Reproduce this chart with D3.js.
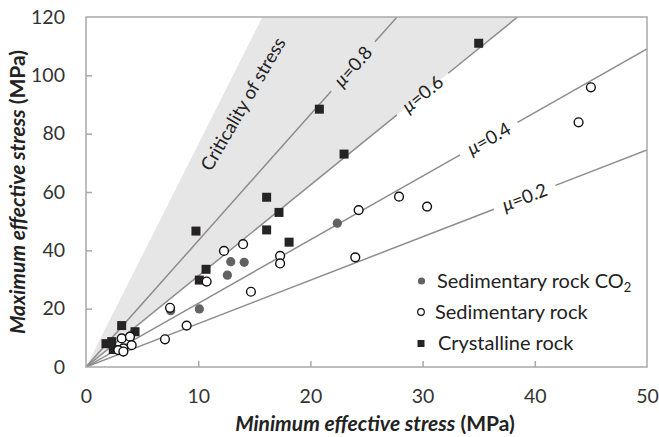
<!DOCTYPE html>
<html>
<head>
<meta charset="utf-8">
<script src="https://cdn.jsdelivr.net/npm/d3@7"></script>
<style>
body { margin: 0; background: #fff; }
text { font-family: Lato, "Open Sans", sans-serif; }
</style>
</head>
<body>
<div id="chart"></div>
<script>
// axis ticks
var xTicks = [0, 10, 20, 30, 40, 50];
var yTicks = [0, 20, 40, 60, 80, 100, 120];

// friction lines, and where their labels sit (min stress value)
var muValues = [0.2, 0.4, 0.6, 0.8];
var muLabelAt = [39.1, 35.9, 30.0, 23.8];
var muCritical = 1.2; // steep edge of the grey band

// Sedimentary rock CO2
var co2Min = [22.4, 12.9, 14.1, 12.6, 10.1, 7.55];
var co2Max = [49.3, 36.1, 35.9, 31.5, 19.9, 19.3];

// Sedimentary rock
var sedMin = [45.0, 43.9, 27.9, 30.4, 24.3, 24.0, 14.0, 12.3, 17.3, 17.3, 10.75, 14.7, 7.49, 8.97, 7.04,
              3.18, 3.92, 4.07, 3.33, 2.88, 3.33];
var sedMax = [95.9, 83.9, 58.4, 55.0, 53.8, 37.6, 42.1, 39.8, 38.1, 35.5, 29.3, 25.8, 20.3, 14.2, 9.5,
              9.8, 10.4, 7.5, 6.4, 5.8, 5.3];

// Crystalline rock
var crysMin = [35.0, 23.0, 20.8, 16.1, 17.2, 9.8, 16.1, 18.1, 10.7, 10.1, 3.18, 4.37, 1.78, 2.29, 2.43];
var crysMax = [111.0, 73.0, 88.4, 58.2, 53.0, 46.6, 47.0, 42.8, 33.5, 29.8, 14.2, 12.1, 8.0, 8.7, 6.0];

var svgWidth = 659, svgHeight = 437;
var margin = {top: 17, right: 12, bottom: 70, left: 86};
var width = svgWidth - margin.left - margin.right,
    height = svgHeight - margin.top - margin.bottom;

var svg = d3.select("#chart").append("svg")
    .attr("width", svgWidth)
    .attr("height", svgHeight);

var chart = svg.append("g")
    .attr("transform", `translate(${margin.left}, ${margin.top})`);

var x = d3.scaleLinear().domain([0, 50]).range([0, width]);
var y = d3.scaleLinear().domain([0, 120]).range([height, 0]);

// stress ratio s1/s3 for a given friction coefficient
function ratio(mu) {
    var r = Math.sqrt(mu * mu + 1) + mu;
    return r * r;
}

svg.append("defs").append("clipPath").attr("id", "plotclip")
    .append("rect").attr("width", width).attr("height", height);

var plot = chart.append("g").attr("clip-path", "url(#plotclip)");

// grey band between mu=0.6 and the critical line
var kLow = ratio(0.6), kHigh = ratio(muCritical);
plot.append("path")
    .attr("d", d3.line()([
        [x(0), y(0)], [x(120 / kHigh), y(120)], [x(120 / kLow), y(120)]
    ]))
    .attr("fill", "#e6e6e7");

// friction lines with a gap for the label
var gap = 33;
muValues.forEach(function(mu, i) {
    var k = ratio(mu);
    var xEnd = Math.min(50, 120 / k);
    var cx = x(muLabelAt[i]), cy = y(k * muLabelAt[i]);
    var dx = x(1) - x(0), dy = y(k) - y(0);
    var len = Math.sqrt(dx * dx + dy * dy);
    var ux = dx / len, uy = dy / len;
    plot.append("path")
        .attr("d", d3.line()([[x(0), y(0)], [cx - ux * gap, cy - uy * gap]]))
        .attr("stroke", "#8d8d8d").attr("stroke-width", 1.5).attr("fill", "none");
    plot.append("path")
        .attr("d", d3.line()([[cx + ux * gap, cy + uy * gap], [x(xEnd), y(k * xEnd)]]))
        .attr("stroke", "#8d8d8d").attr("stroke-width", 1.5).attr("fill", "none");
    var angle = Math.atan2(dy, dx) * 180 / Math.PI;
    var t = chart.append("text")
        .attr("transform", `translate(${cx}, ${cy}) rotate(${angle})`)
        .attr("text-anchor", "middle")
        .attr("dy", "0.35em")
        .attr("font-size", "18.5px")
        .attr("fill", "#222");
    t.append("tspan").attr("font-style", "italic").text("\u03bc");
    t.append("tspan").text("=" + mu);
});

chart.append("text")
    .attr("transform", `translate(${243 - margin.left}, ${104 - margin.top}) rotate(-60)`)
    .attr("text-anchor", "middle")
    .attr("dy", "0.35em")
    .attr("font-size", "18.5px")
    .attr("fill", "#222")
    .text("Criticality of stress");

// frame
chart.append("rect")
    .attr("width", width).attr("height", height)
    .attr("fill", "none").attr("stroke", "#a9a9a9").attr("stroke-width", 1.5);

// axes with inward ticks
var xAxis = chart.append("g")
    .attr("transform", `translate(0, ${height})`)
    .call(d3.axisBottom(x).tickValues(xTicks).tickSize(-6).tickPadding(22));
var yAxis = chart.append("g")
    .call(d3.axisLeft(y).tickValues(yTicks).tickSize(-6).tickPadding(21));

[xAxis, yAxis].forEach(function(a) {
    a.select(".domain").remove();
    a.selectAll(".tick line").attr("stroke", "#a9a9a9").attr("stroke-width", 1.5);
    a.selectAll(".tick text")
        .attr("font-family", "Lato, 'Open Sans', sans-serif")
        .attr("font-size", "19.5px")
        .attr("fill", "#333");
});
xAxis.selectAll(".tick").filter(d => d === 0 || d === 50).select("line").remove();
yAxis.selectAll(".tick").filter(d => d === 0 || d === 120).select("line").remove();

// markers
plot.selectAll(".co2")
    .data(co2Min.map((d, i) => [d, co2Max[i]]))
    .enter().append("circle")
    .attr("cx", d => x(d[0])).attr("cy", d => y(d[1]))
    .attr("r", 4.6)
    .attr("fill", "#626262");

plot.selectAll(".crys")
    .data(crysMin.map((d, i) => [d, crysMax[i]]))
    .enter().append("rect")
    .attr("x", d => x(d[0]) - 4.5).attr("y", d => y(d[1]) - 4.5)
    .attr("width", 9).attr("height", 9)
    .attr("fill", "#262324");

plot.selectAll(".sed")
    .data(sedMin.map((d, i) => [d, sedMax[i]]))
    .enter().append("circle")
    .attr("cx", d => x(d[0])).attr("cy", d => y(d[1]))
    .attr("r", 4.4)
    .attr("fill", "#fff").attr("stroke", "#111").attr("stroke-width", 1.4);

// legend
var legend = svg.append("g");
legend.append("circle").attr("cx", 421.5).attr("cy", 281).attr("r", 3.6).attr("fill", "#626262");
legend.append("circle").attr("cx", 421).attr("cy", 312).attr("r", 3.3)
    .attr("fill", "#fff").attr("stroke", "#111").attr("stroke-width", 1.2);
legend.append("rect").attr("x", 417.5).attr("y", 340).attr("width", 7).attr("height", 7).attr("fill", "#262324");

var l1 = legend.append("text").attr("x", 437).attr("y", 288).attr("font-size", "20px").attr("fill", "#222");
l1.append("tspan").text("Sedimentary rock CO");
l1.append("tspan").attr("font-size", "13px").attr("dy", "4").text("2");
legend.append("text").attr("x", 435).attr("y", 319).attr("font-size", "20px").attr("fill", "#222")
    .text("Sedimentary rock");
legend.append("text").attr("x", 438).attr("y", 350).attr("font-size", "20px").attr("fill", "#222")
    .text("Crystalline rock");

// axis titles
var xt = svg.append("text")
    .attr("x", 375).attr("y", 431)
    .attr("text-anchor", "middle")
    .attr("font-size", "21px").attr("font-weight", "bold").attr("fill", "#222");
xt.append("tspan").attr("font-style", "italic").text("Minimum effective stress");
xt.append("tspan").text(" (MPa)");

var yt = svg.append("text")
    .attr("transform", "translate(25, 192) rotate(-90)")
    .attr("text-anchor", "middle")
    .attr("font-size", "21px").attr("font-weight", "bold").attr("fill", "#222");
yt.append("tspan").attr("font-style", "italic").text("Maximum effective stress");
yt.append("tspan").text(" (MPa)");
</script>
</body>
</html>
